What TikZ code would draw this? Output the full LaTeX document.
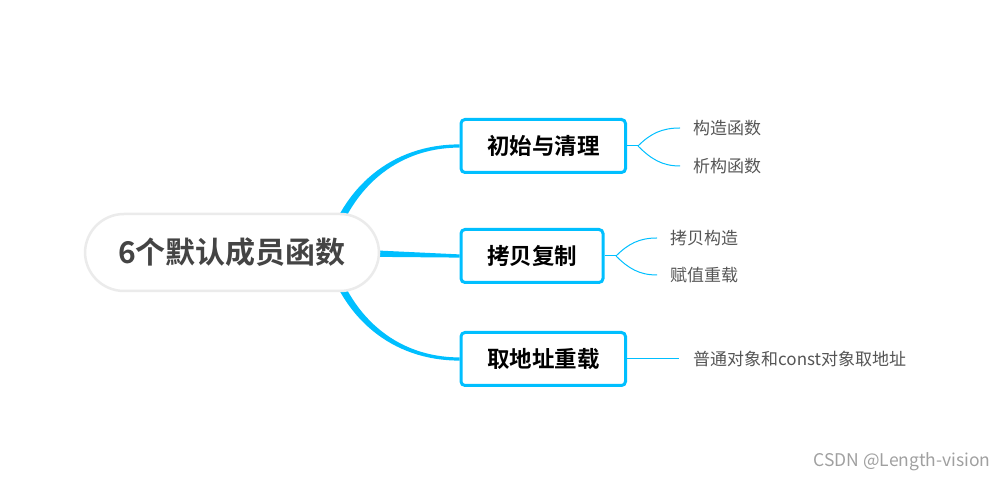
\documentclass[tikz,border=0pt]{standalone}
\usepackage{fontspec}
\setmainfont{Noto Sans CJK SC}[BoldFont={Noto Sans CJK SC Bold}]
\usepackage{xcolor}
\usepackage{tikz}
\usetikzlibrary{positioning,backgrounds,calc}
\definecolor{branchcolor}{RGB}{0,191,255}
\definecolor{rootcolor}{RGB}{68,68,68}
\definecolor{leafcolor}{RGB}{85,85,85}
\definecolor{markcolor}{RGB}{160,160,160}

\begin{document}
\begin{tikzpicture}[
    x=1pt, y=1pt,
    root/.style={rectangle, draw=black!8, line width=2.5pt, fill=white, rounded corners=39pt, minimum width=294pt, minimum height=77pt, font=\bfseries\fontsize{30}{34}\selectfont, text=rootcolor},
    box/.style={rectangle, draw=branchcolor, line width=3pt, fill=white, rounded corners=4pt, inner xsep=26pt, minimum height=53pt, font=\bfseries\fontsize{22.5}{26}\selectfont, text=black, anchor=west},
    leaf/.style={inner xsep=13pt, inner ysep=0pt, anchor=west, font=\fontsize{17}{19}\selectfont, text=leafcolor},
    branch/.style={fill=branchcolor},
    twig/.style={draw=branchcolor, line width=1pt}
]
    \useasboundingbox (0,0) rectangle (1007,481);

    % Nodes
    \node[root] (members) at (232,228.5) {6个默认成员函数};
    \node[box] (init) at (459.5,335) {初始与清理};
    \node[box] (copy) at (459.5,225) {拷贝复制};
    \node[box] (addr) at (459.5,122) {取地址重载};

    % Leaves
    \coordinate (initsplit) at (638,335);
    \coordinate (copysplit) at (616,225);
    \node[leaf] (ctor) at (680,353) {构造函数};
    \node[leaf] (dtor) at (680,315) {析构函数};
    \node[leaf] (copyctor) at (657,243) {拷贝构造};
    \node[leaf] (assign) at (657,206) {赋值重载};
    \node[leaf, inner xsep=14pt] (addrof) at (679,122) {普通对象和const对象取地址};

    % Branches (tapered)
    \begin{scope}[on background layer]
        \fill[branch] ([xshift=-56pt]members.east) to[out=75, in=180] ([yshift=1.6pt]init.west)
            -- ([yshift=-1.6pt]init.west) to[out=180, in=75] ([xshift=-48pt]members.east) -- cycle;
        \fill[branch] ([xshift=-45pt, yshift=4pt]members.east) -- ([yshift=1.6pt]copy.west)
            -- ([yshift=-1.6pt]copy.west) -- ([xshift=-45pt, yshift=-4pt]members.east) -- cycle;
        \fill[branch] ([xshift=-56pt]members.east) to[out=-75, in=180] ([yshift=-1.6pt]addr.west)
            -- ([yshift=1.6pt]addr.west) to[out=180, in=-75] ([xshift=-48pt]members.east) -- cycle;
    \end{scope}

    % Twigs
    \draw[twig] (init.east) -- (initsplit);
    \draw[twig] (initsplit) to[out=45, in=180] (ctor.west);
    \draw[twig] (initsplit) to[out=-45, in=180] (dtor.west);
    \draw[twig] (copy.east) -- (copysplit);
    \draw[twig] (copysplit) to[out=45, in=180] (copyctor.west);
    \draw[twig] (copysplit) to[out=-45, in=180] (assign.west);
    \draw[twig] (addr.east) -- (addrof.west);

    % Watermark
    \node[font=\fontsize{17.5}{20}\selectfont, text=markcolor] (wm) at (902,19) {CSDN @Length-vision};
\end{tikzpicture}
\end{document}
